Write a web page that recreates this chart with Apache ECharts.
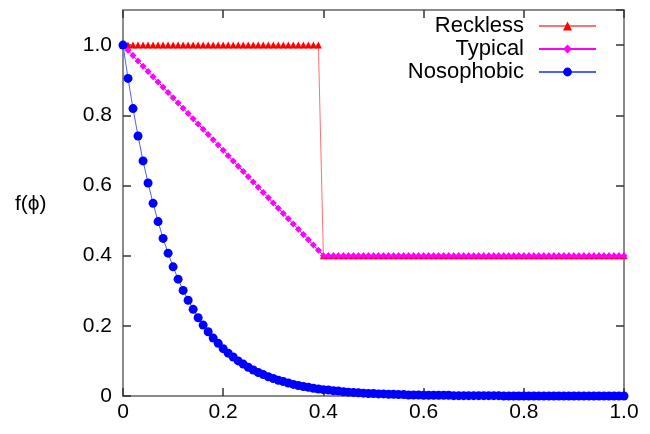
<!DOCTYPE html>
<html><head><meta charset="utf-8">
<script src="https://cdn.jsdelivr.net/npm/echarts@6/dist/echarts.min.js"></script>
<style>html,body{margin:0;padding:0;background:#fff}#c{width:650px;height:434px}</style>
</head><body><div id="c"></div>
<script>
const xValues = [0.00,0.01,0.02,0.03,0.04,0.05,0.06,0.07,0.08,0.09,0.10,0.11,0.12,0.13,0.14,0.15,0.16,0.17,0.18,0.19,0.20,0.21,0.22,0.23,0.24,0.25,0.26,0.27,0.28,0.29,0.30,0.31,0.32,0.33,0.34,0.35,0.36,0.37,0.38,0.39,0.40,0.41,0.42,0.43,0.44,0.45,0.46,0.47,0.48,0.49,0.50,0.51,0.52,0.53,0.54,0.55,0.56,0.57,0.58,0.59,0.60,0.61,0.62,0.63,0.64,0.65,0.66,0.67,0.68,0.69,0.70,0.71,0.72,0.73,0.74,0.75,0.76,0.77,0.78,0.79,0.80,0.81,0.82,0.83,0.84,0.85,0.86,0.87,0.88,0.89,0.90,0.91,0.92,0.93,0.94,0.95,0.96,0.97,0.98,0.99,1.00];
const reckless = [1,1,1,1,1,1,1,1,1,1,1,1,1,1,1,1,1,1,1,1,1,1,1,1,1,1,1,1,1,1,1,1,1,1,1,1,1,1,1,1,
0.4,0.4,0.4,0.4,0.4,0.4,0.4,0.4,0.4,0.4,0.4,0.4,0.4,0.4,0.4,0.4,0.4,0.4,0.4,0.4,0.4,0.4,0.4,0.4,0.4,0.4,0.4,0.4,0.4,0.4,0.4,0.4,0.4,0.4,0.4,0.4,0.4,0.4,0.4,0.4,0.4,0.4,0.4,0.4,0.4,0.4,0.4,0.4,0.4,0.4,0.4,0.4,0.4,0.4,0.4,0.4,0.4,0.4,0.4,0.4,0.4];
const typical = [1.000,0.985,0.970,0.955,0.940,0.925,0.910,0.895,0.880,0.865,0.850,0.835,0.820,0.805,0.790,0.775,0.760,0.745,0.730,0.715,0.700,0.685,0.670,0.655,0.640,0.625,0.610,0.595,0.580,0.565,0.550,0.535,0.520,0.505,0.490,0.475,0.460,0.445,0.430,0.415,
0.4,0.4,0.4,0.4,0.4,0.4,0.4,0.4,0.4,0.4,0.4,0.4,0.4,0.4,0.4,0.4,0.4,0.4,0.4,0.4,0.4,0.4,0.4,0.4,0.4,0.4,0.4,0.4,0.4,0.4,0.4,0.4,0.4,0.4,0.4,0.4,0.4,0.4,0.4,0.4,0.4,0.4,0.4,0.4,0.4,0.4,0.4,0.4,0.4,0.4,0.4,0.4,0.4,0.4,0.4,0.4,0.4,0.4,0.4,0.4,0.4];
const nosophobic = [1.000,0.905,0.819,0.741,0.670,0.607,0.549,0.497,0.449,0.407,0.368,0.333,0.301,0.273,0.247,0.223,0.202,0.183,0.165,0.150,0.135,0.122,0.111,0.100,0.091,0.082,0.074,0.067,0.061,0.055,0.050,0.045,0.041,0.037,0.033,0.030,0.027,0.025,0.022,0.020,0.018,0.017,0.015,0.014,0.012,0.011,0.010,0.009,0.008,0.007,0.007,0.006,0.006,0.005,0.005,0.004,0.004,0.003,0.003,0.003,0.002,0.002,0.002,0.002,0.002,0.002,0.001,0.001,0.001,0.001,0.001,0.001,0.001,0.001,0.001,0.001,0,0,0,0,0,0,0,0,0,0,0,0,0,0,0,0,0,0,0,0,0,0,0,0,0];
const seriesNames = ['Reckless','Typical','Nosophobic'];
const xTicks = [0, 0.2, 0.4, 0.6, 0.8, 1.0];
const yTicks = [0, 0.2, 0.4, 0.6, 0.8, 1.0];

const FONT = 'Liberation Sans';
const pairs = a => a.map((v, i) => [xValues[i], v]);
const fmt = v => (Math.abs(v) < 1e-9 ? '0' : v.toFixed(1));
const axisLine = { show: true, onZero: false, lineStyle: { color: '#8a8a8a', width: 2 } };
const tick = { show: true, inside: true, length: 8, lineStyle: { color: '#333', width: 1.5 } };

const chart = echarts.init(document.getElementById('c'), null, { renderer: 'canvas' });
chart.setOption({
  animation: false,
  backgroundColor: '#fff',
  grid: { left: 123, right: 26, top: 10, bottom: 38, containLabel: false },
  xAxis: [
    { type: 'value', min: 0, max: 1, interval: 0.2, position: 'bottom',
      axisLine, axisTick: tick, splitLine: { show: false },
      axisLabel: { color: '#000', fontFamily: FONT, fontSize: 21, margin: 6,
        formatter: v => xTicks.some(t => Math.abs(t - v) < 1e-9) ? fmt(v) : '' } },
    { type: 'value', min: 0, max: 1, interval: 0.2, position: 'top',
      axisLine, axisTick: tick, splitLine: { show: false }, axisLabel: { show: false } }
  ],
  yAxis: [
    { type: 'value', min: 0, max: 1.1, interval: 0.2, position: 'left',
      axisLine, axisTick: tick, splitLine: { show: false },
      axisLabel: { color: '#000', fontFamily: FONT, fontSize: 21, margin: 11, showMaxLabel: false,
        formatter: v => yTicks.some(t => Math.abs(t - v) < 1e-9) ? fmt(v) : '' } },
    { type: 'value', min: 0, max: 1.1, interval: 0.2, position: 'right',
      axisLine, axisTick: tick, splitLine: { show: false }, axisLabel: { show: false } }
  ],
  legend: {
    orient: 'vertical', right: 48, top: 10, align: 'right',
    itemWidth: 57, itemHeight: 11, itemGap: 1,
    textStyle: { color: '#000', fontFamily: FONT, fontSize: 22, padding: [0, 10, 0, 0] },
    data: seriesNames
  },
  graphic: [
    { type: 'text', left: 15, top: 194,
      style: { text: 'f(ϕ)', fill: '#000', font: '21px "Liberation Sans"' } }
  ],
  series: [
    { name: seriesNames[0], type: 'line', data: pairs(reckless),
      symbol: 'triangle', symbolSize: 7, color: '#ff0000',
      itemStyle: { color: '#ff0000' }, lineStyle: { color: '#ff7070', width: 1 } },
    { name: seriesNames[1], type: 'line', data: pairs(typical),
      symbol: 'diamond', symbolSize: 7, color: '#ff00ff',
      itemStyle: { color: '#ff00ff' }, lineStyle: { color: '#ff00ff', width: 1 } },
    { name: seriesNames[2], type: 'line', data: pairs(nosophobic),
      symbol: 'circle', symbolSize: 9, color: '#0000ff',
      itemStyle: { color: '#0000ff' }, lineStyle: { color: '#5060ff', width: 1 } }
  ]
});
</script></body></html>
